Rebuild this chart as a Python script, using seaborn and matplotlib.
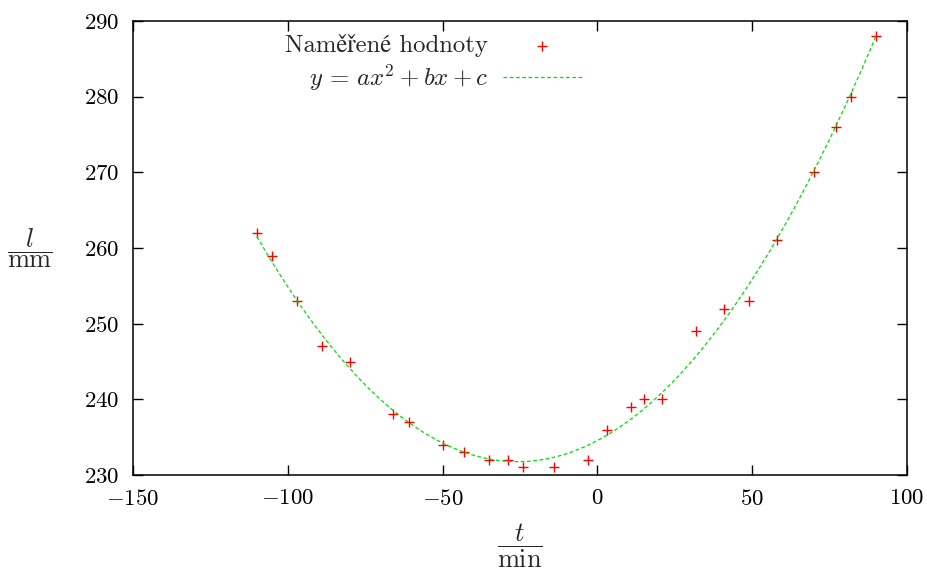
import numpy as np
import pandas as pd
import matplotlib
matplotlib.use("Agg")
import matplotlib.pyplot as plt
import seaborn as sns

# Data
t_min = [-110, -105, -97, -89, -80, -66, -61, -50, -43, -35, -29, -24, -14, -3,
         3, 11, 15, 21, 32, 41, 49, 58, 70, 77, 82, 90]
l_mm = [262, 259, 253, 247, 245, 238, 237, 234, 233, 232, 232, 231, 231, 232,
        236, 239, 240, 240, 249, 252, 253, 261, 270, 276, 280, 288]

x_ticks = [-150, -100, -50, 0, 50, 100]
y_ticks = [230, 240, 250, 260, 270, 280, 290]
label_points = "Naměřené hodnoty"
label_fit = r"$y\,=\,ax^2+bx+c$"

df = pd.DataFrame({"t": t_min, "l": l_mm})

# quadratic fit of the measured values
coef = np.polyfit(df["t"], df["l"], 2)
xf = np.linspace(min(t_min), max(t_min), 300)
fit_df = pd.DataFrame({"t": xf, "l": np.polyval(coef, xf)})

sns.set_theme(style="ticks")
plt.rcParams["font.family"] = ["cmr10", "STIXGeneral", "DejaVu Serif"]
plt.rcParams["mathtext.fontset"] = "cm"
plt.rcParams["axes.formatter.use_mathtext"] = True
plt.rcParams["axes.unicode_minus"] = True

fig = plt.figure(figsize=(9.28, 5.73), dpi=100)
ax = fig.add_axes([133 / 928, 1 - 475 / 573, 774 / 928, 454 / 573])

sns.scatterplot(data=df, x="t", y="l", marker="+", color="#ff0000", s=60,
                linewidth=1.0, ax=ax, label=label_points, zorder=2)
sns.lineplot(data=fit_df, x="t", y="l", color="#00e000", linestyle=(0, (3, 2)),
             linewidth=0.9, ax=ax, label=label_fit, zorder=3)

ax.set_xlim(-150, 100)
ax.set_ylim(230, 290)
ax.set_xticks(x_ticks)
ax.set_yticks(y_ticks)
ax.tick_params(direction="in", length=7, width=1.0, top=True, right=True,
               labelsize=16.5, colors="black", pad=10)
for sp in ax.spines.values():
    sp.set_visible(True)
    sp.set_linewidth(1.1)
    sp.set_color("black")

ax.set_xlabel("")
ax.set_ylabel("")
fig.text(30 / 928, 1 - 248 / 573, r"$\dfrac{l}{\mathrm{mm}}$", fontsize=19,
         ha="center", va="center")
fig.text(520 / 928, 1 - 546 / 573, r"$\dfrac{t}{\mathrm{min}}$", fontsize=19,
         ha="center", va="center")

ax.legend(loc="upper right", bbox_to_anchor=(0.599, 1.004), frameon=False,
          markerfirst=False, fontsize=17.8, handlelength=3.2, handletextpad=0.6,
          labelspacing=0.22, borderaxespad=0.2)

fig.savefig("out.png", dpi=100)
